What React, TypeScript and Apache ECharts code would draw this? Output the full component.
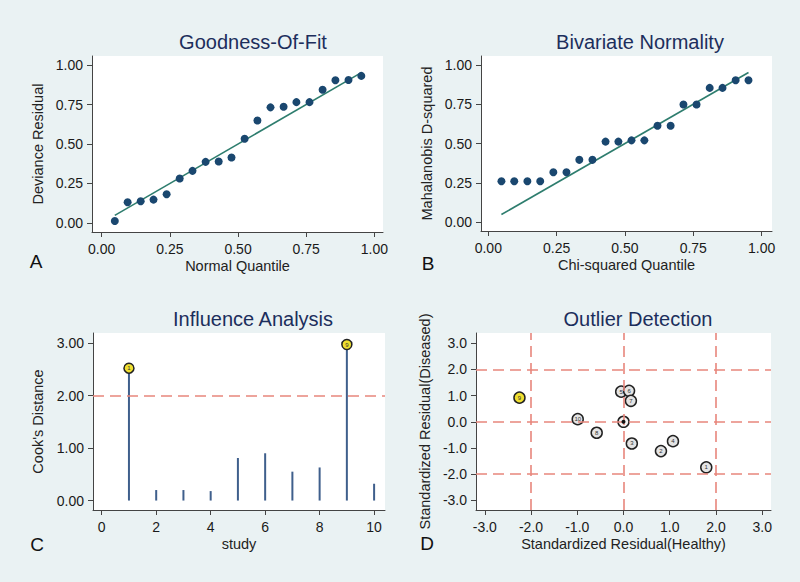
import React, { useEffect, useRef } from "react";
import * as echarts from "echarts";

// ---------- data ----------
const quantiles = [0.048, 0.095, 0.143, 0.19, 0.238, 0.286, 0.333, 0.381, 0.429, 0.476, 0.524, 0.571, 0.619, 0.667, 0.714, 0.762, 0.81, 0.857, 0.905, 0.952];
const devianceResidual = [0.013, 0.131, 0.138, 0.148, 0.182, 0.282, 0.33, 0.387, 0.389, 0.415, 0.533, 0.649, 0.732, 0.736, 0.765, 0.765, 0.843, 0.903, 0.905, 0.931];
const mahalanobisD2 = [0.26, 0.26, 0.26, 0.26, 0.317, 0.317, 0.396, 0.396, 0.512, 0.512, 0.52, 0.52, 0.613, 0.613, 0.748, 0.748, 0.854, 0.854, 0.903, 0.903];
const fitFrom = [0.048, 0.048];
const fitTo = [0.952, 0.952];

const studies = [1, 2, 3, 4, 5, 6, 7, 8, 9, 10];
const cooksDistance = [2.52, 0.2, 0.2, 0.18, 0.81, 0.9, 0.55, 0.63, 2.97, 0.32];
const cooksThreshold = 2;

const residualHealthy = [1.79, 0.81, 0.18, 1.07, -0.05, 0.12, 0.16, -0.58, -2.25, -0.99];
const residualDiseased = [-1.74, -1.12, -0.83, -0.74, 1.15, 1.18, 0.8, -0.42, 0.92, 0.1];
const residualLimits = [-2, 0, 2];
const residualCentre = [0, 0];

const quantileTicks = [0, 0.25, 0.5, 0.75, 1];
const cooksTicks = [0, 1, 2, 3];
const studyTicks = [0, 2, 4, 6, 8, 10];
const residualTicks = [-3, -2, -1, 0, 1, 2, 3];

const panelTitles = ["Goodness-Of-Fit", "Bivariate Normality", "Influence Analysis", "Outlier Detection"];
const panelLetters = ["A", "B", "C", "D"];

// ---------- styles ----------
const FONT = "'Liberation Sans', Arial, Helvetica, sans-serif";
const BG = "#EAF2F3";
const NAVY = "#1A476F";
const GREEN = "#2E7D6E";
const RED = "#E8867C";
const AXIS = "#444444";
const TITLE = "#1C2E5C";

function makeAxis(
  gridIndex: number,
  min: number,
  max: number,
  ticks: number[],
  fmt: (v: number) => string,
  name: string,
  nameGap: number,
  vertical: boolean
) {
  return {
    type: "value",
    gridIndex,
    min,
    max,
    name,
    nameLocation: "middle",
    nameGap,
    nameTextStyle: { fontSize: 14.5, color: "#222", fontFamily: FONT },
    axisLine: { show: true, onZero: false, lineStyle: { color: AXIS, width: 1 } },
    axisTick: { show: true, inside: false, length: 5, customValues: ticks, lineStyle: { color: AXIS } },
    axisLabel: {
      show: true,
      customValues: ticks,
      formatter: (v: number) => fmt(v),
      fontSize: 14,
      color: "#1a1a1a",
      fontFamily: FONT,
      margin: vertical ? 9 : 10,
      showMinLabel: true,
      showMaxLabel: true,
    },
    splitLine: { show: false },
    z: 3,
  };
}

export default function App() {
  const ref = useRef<HTMLDivElement>(null);

  useEffect(() => {
    document.body.style.margin = "0";
    if (!ref.current) return;
    const chart = echarts.init(ref.current, undefined, { renderer: "svg" });

    const f2 = (v: number) => v.toFixed(2);
    const f1 = (v: number) => v.toFixed(1);
    const f0 = (v: number) => String(Math.round(v));

    const grids = [
      { left: 92, top: 56, width: 291, height: 176 },
      { left: 481, top: 56, width: 291, height: 175 },
      { left: 93, top: 333, width: 292, height: 177 },
      { left: 476, top: 333, width: 295, height: 177 },
    ];

    const titlePos = [
      [253, 42],
      [640, 42],
      [253, 319],
      [638, 319],
    ];
    const letterPos = [
      [36, 261],
      [428, 263],
      [37, 544],
      [427, 543],
    ];

    const graphics: any[] = [];
    grids.forEach((g) => {
      graphics.push({
        type: "rect",
        silent: true,
        z: -10,
        shape: { x: g.left, y: g.top, width: g.width, height: g.height },
        style: { fill: "#FFFFFF" },
      });
    });
    panelTitles.forEach((t, i) => {
      graphics.push({
        type: "text",
        x: titlePos[i][0],
        y: titlePos[i][1],
        style: {
          text: t,
          fontSize: 20,
          fontFamily: FONT,
          fill: TITLE,
          textAlign: "center",
          textVerticalAlign: "middle",
        },
      });
    });
    panelLetters.forEach((t, i) => {
      graphics.push({
        type: "text",
        x: letterPos[i][0],
        y: letterPos[i][1],
        style: {
          text: t,
          fontSize: 19,
          fontFamily: FONT,
          fill: "#111",
          textAlign: "center",
          textVerticalAlign: "middle",
        },
      });
    });

    const flagged = studies
      .map((s, i) => ({ value: [s, cooksDistance[i]], name: String(s) }))
      .filter((d) => d.value[1] > cooksThreshold);

    const outlierPts = studies.map((s, i) => {
      const x = residualHealthy[i];
      const y = residualDiseased[i];
      const out = Math.abs(x) > 2 || Math.abs(y) > 2;
      return {
        value: [x, y],
        name: String(s),
        itemStyle: { color: out ? "#F0E030" : "#E4E4E4" },
      };
    });

    const option: any = {
      animation: false,
      backgroundColor: BG,
      textStyle: { fontFamily: FONT },
      graphic: graphics,
      grid: grids.map((g) => ({ ...g, show: false })),
      xAxis: [
        makeAxis(0, -0.0356, 1.0315, quantileTicks, f2, "Normal Quantile", 26, false),
        makeAxis(1, -0.0267, 1.038, quantileTicks, f2, "Chi-squared Quantile", 26, false),
        makeAxis(2, -0.32, 10.4, studyTicks, f0, "study", 26, false),
        makeAxis(3, -3.19, 3.19, residualTicks, f1, "Standardized Residual(Healthy)", 26, false),
      ],
      yAxis: [
        makeAxis(0, -0.057, 1.057, quantileTicks, f2, "Deviance Residual", 47, true),
        makeAxis(1, -0.057, 1.057, quantileTicks, f2, "Mahalanobis D-squared", 47, true),
        makeAxis(2, -0.18, 3.19, cooksTicks, f2, "Cook's Distance", 48, true),
        makeAxis(3, -3.37, 3.39, residualTicks, f1, "Standardized Residual(Diseased)", 44, true),
      ],
      series: [
        // A
        {
          type: "line",
          xAxisIndex: 0,
          yAxisIndex: 0,
          data: [fitFrom, fitTo],
          symbol: "none",
          lineStyle: { color: GREEN, width: 1.6 },
          z: 2,
        },
        {
          type: "scatter",
          xAxisIndex: 0,
          yAxisIndex: 0,
          data: quantiles.map((q, i) => [q, devianceResidual[i]]),
          symbolSize: 8,
          itemStyle: { color: NAVY, opacity: 1 },
          z: 3,
        },
        // B
        {
          type: "line",
          xAxisIndex: 1,
          yAxisIndex: 1,
          data: [fitFrom, fitTo],
          symbol: "none",
          lineStyle: { color: GREEN, width: 1.6 },
          z: 2,
        },
        {
          type: "scatter",
          xAxisIndex: 1,
          yAxisIndex: 1,
          data: quantiles.map((q, i) => [q, mahalanobisD2[i]]),
          symbolSize: 8,
          itemStyle: { color: NAVY, opacity: 1 },
          z: 3,
        },
        // C
        {
          type: "bar",
          xAxisIndex: 2,
          yAxisIndex: 2,
          data: studies.map((s, i) => [s, cooksDistance[i]]),
          barWidth: 2,
          itemStyle: { color: "#3F5F8C" },
          markLine: {
            silent: true,
            symbol: "none",
            label: { show: false },
            lineStyle: { color: RED, width: 1.5, type: [11, 6] },
            data: [{ yAxis: cooksThreshold }],
          },
          z: 2,
        },
        {
          type: "scatter",
          xAxisIndex: 2,
          yAxisIndex: 2,
          data: flagged,
          symbolSize: 10,
          itemStyle: { color: "#F0E030", borderColor: "#222", borderWidth: 1.5, opacity: 1 },
          label: {
            show: true,
            position: "inside",
            formatter: (p: any) => p.name,
            fontSize: 6,
            color: "#333",
          },
          z: 4,
        },
        // D
        {
          type: "scatter",
          xAxisIndex: 3,
          yAxisIndex: 3,
          data: outlierPts,
          symbolSize: 11,
          itemStyle: { borderColor: "#222", borderWidth: 1.5, opacity: 1 },
          label: {
            show: true,
            position: "inside",
            formatter: (p: any) => p.name,
            fontSize: 6,
            color: "#333",
          },
          markLine: {
            silent: true,
            symbol: "none",
            label: { show: false },
            lineStyle: { color: RED, width: 1.6, type: [11, 6] },
            data: [
              ...residualLimits.map((v) => ({ xAxis: v })),
              ...residualLimits.map((v) => ({ yAxis: v })),
            ],
          },
          z: 4,
        },
        {
          type: "scatter",
          xAxisIndex: 3,
          yAxisIndex: 3,
          data: [residualCentre],
          symbolSize: 11,
          itemStyle: { color: "#F4F4F4", borderColor: "#222", borderWidth: 1.5, opacity: 1 },
          z: 4,
        },
        {
          type: "scatter",
          xAxisIndex: 3,
          yAxisIndex: 3,
          data: [residualCentre],
          symbolSize: 4,
          itemStyle: { color: "#111", opacity: 1 },
          z: 5,
        },
      ],
    };

    chart.setOption(option);
    return () => chart.dispose();
  }, []);

  return <div ref={ref} style={{ width: 800, height: 582 }} />;
}
